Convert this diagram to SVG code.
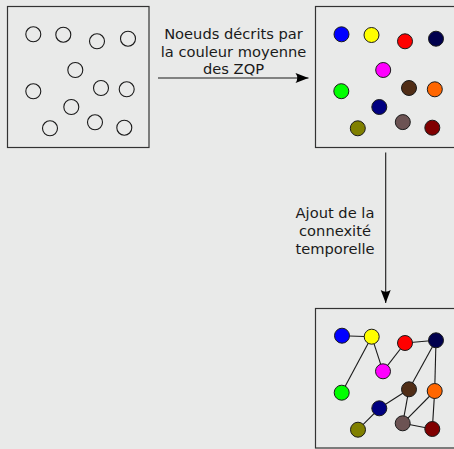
<svg xmlns="http://www.w3.org/2000/svg" width="454" height="449" viewBox="0 0 454 449">
<style>
.bg{fill:#e9eae9}
.box{fill:#e9eae9;stroke:#333;stroke-width:1.2}
.n{stroke:#1a1a1a;stroke-width:1}
.e{fill:#e9eae9;stroke:#1a1a1a;stroke-width:1.1}
.c{stroke:#1a1a1a;stroke-width:1.1;fill:none}
.t{font-family:"DejaVu Sans",sans-serif;font-size:14.67px;fill:#1a1a1a;text-anchor:middle}
</style>
<defs>
<marker id="ah" markerUnits="userSpaceOnUse" markerWidth="16" markerHeight="12" viewBox="-14 -6 16 12" refX="0" refY="0" orient="auto">
<path d="M0,0 L-13,-5 Q-9.5,0 -13,5 Z" fill="#000"/>
</marker>
</defs>
<rect class="bg" x="0" y="0" width="454" height="449"/>
<g id="box1">
<rect class="box" x="7.5" y="6.5" width="141.5" height="141"/>
<circle class="e" cx="33.3" cy="34.3" r="7.5"/>
<circle class="e" cx="63.3" cy="34.7" r="7.5"/>
<circle class="e" cx="97" cy="41.3" r="7.5"/>
<circle class="e" cx="128" cy="38.7" r="7.5"/>
<circle class="e" cx="75.3" cy="70" r="7.5"/>
<circle class="e" cx="33.3" cy="91.3" r="7.5"/>
<circle class="e" cx="101" cy="88" r="7.5"/>
<circle class="e" cx="126.7" cy="89.3" r="7.5"/>
<circle class="e" cx="71.3" cy="107" r="7.5"/>
<circle class="e" cx="50" cy="128.3" r="7.5"/>
<circle class="e" cx="95" cy="122.3" r="7.5"/>
<circle class="e" cx="124.3" cy="127.7" r="7.5"/>
</g>
<g id="box2">
<rect class="box" x="315.5" y="6.5" width="141.5" height="141"/>
<circle class="n" fill="#0000ff" cx="341.5" cy="34.3" r="7.5"/>
<circle class="n" fill="#ffff00" cx="371.5" cy="35" r="7.5"/>
<circle class="n" fill="#ff0000" cx="405" cy="41.3" r="7.5"/>
<circle class="n" fill="#00004d" cx="436" cy="38.7" r="7.5"/>
<circle class="n" fill="#ff00ff" cx="383.2" cy="70" r="7.5"/>
<circle class="n" fill="#00ff00" cx="341.3" cy="91.2" r="7.5"/>
<circle class="n" fill="#502d16" cx="409" cy="88" r="7.5"/>
<circle class="n" fill="#ff6600" cx="434.8" cy="89.3" r="7.5"/>
<circle class="n" fill="#000080" cx="379.3" cy="107" r="7.5"/>
<circle class="n" fill="#808000" cx="357.8" cy="128.3" r="7.5"/>
<circle class="n" fill="#6c5353" cx="402.8" cy="122.1" r="7.5"/>
<circle class="n" fill="#800000" cx="432.3" cy="127.7" r="7.5"/>
</g>
<g id="connectors">
<line class="c" x1="158" y1="78" x2="308.5" y2="78" marker-end="url(#ah)"/>
<line class="c" x1="385.7" y1="152.5" x2="385.7" y2="303" marker-end="url(#ah)"/>
</g>
<g id="label1">
<text class="t" x="233.5" y="39">Noeuds décrits par</text>
<text class="t" x="233.5" y="56.7">la couleur moyenne</text>
<text class="t" x="233.5" y="74.4">des ZQP</text>
</g>
<g id="label2">
<text class="t" x="335" y="218.4">Ajout de la</text>
<text class="t" x="335" y="236">connexité</text>
<text class="t" x="335" y="253.7">temporelle</text>
</g>
<g id="box3">
<rect class="box" x="315.5" y="308.5" width="141.5" height="139.5"/>
<g class="c">
<line x1="342" y1="335.7" x2="371.7" y2="336.7"/>
<line x1="371.7" y1="336.7" x2="341.7" y2="392.7"/>
<line x1="371.7" y1="336.7" x2="383" y2="371.3"/>
<line x1="383" y1="371.3" x2="405" y2="343"/>
<line x1="405" y1="343" x2="436" y2="340.3"/>
<line x1="436" y1="340.3" x2="409" y2="389.3"/>
<line x1="436" y1="340.3" x2="434.7" y2="391"/>
<line x1="409" y1="389.3" x2="379.3" y2="408.3"/>
<line x1="409" y1="389.3" x2="402.7" y2="423.3"/>
<line x1="434.7" y1="391" x2="402.7" y2="423.3"/>
<line x1="434.7" y1="391" x2="432.3" y2="429"/>
<line x1="402.7" y1="423.3" x2="432.3" y2="429"/>
<line x1="379.3" y1="408.3" x2="358" y2="429.7"/>
</g>
<circle class="n" fill="#0000ff" cx="342" cy="335.7" r="7.5"/>
<circle class="n" fill="#ffff00" cx="371.7" cy="336.7" r="7.5"/>
<circle class="n" fill="#ff0000" cx="405" cy="343" r="7.5"/>
<circle class="n" fill="#00004d" cx="436" cy="340.3" r="7.5"/>
<circle class="n" fill="#ff00ff" cx="383" cy="371.3" r="7.5"/>
<circle class="n" fill="#00ff00" cx="341.7" cy="392.7" r="7.5"/>
<circle class="n" fill="#502d16" cx="409" cy="389.3" r="7.5"/>
<circle class="n" fill="#ff6600" cx="434.7" cy="391" r="7.5"/>
<circle class="n" fill="#000080" cx="379.3" cy="408.3" r="7.5"/>
<circle class="n" fill="#808000" cx="358" cy="429.7" r="7.5"/>
<circle class="n" fill="#6c5353" cx="402.7" cy="423.3" r="7.5"/>
<circle class="n" fill="#800000" cx="432.3" cy="429" r="7.5"/>
</g>
</svg>
